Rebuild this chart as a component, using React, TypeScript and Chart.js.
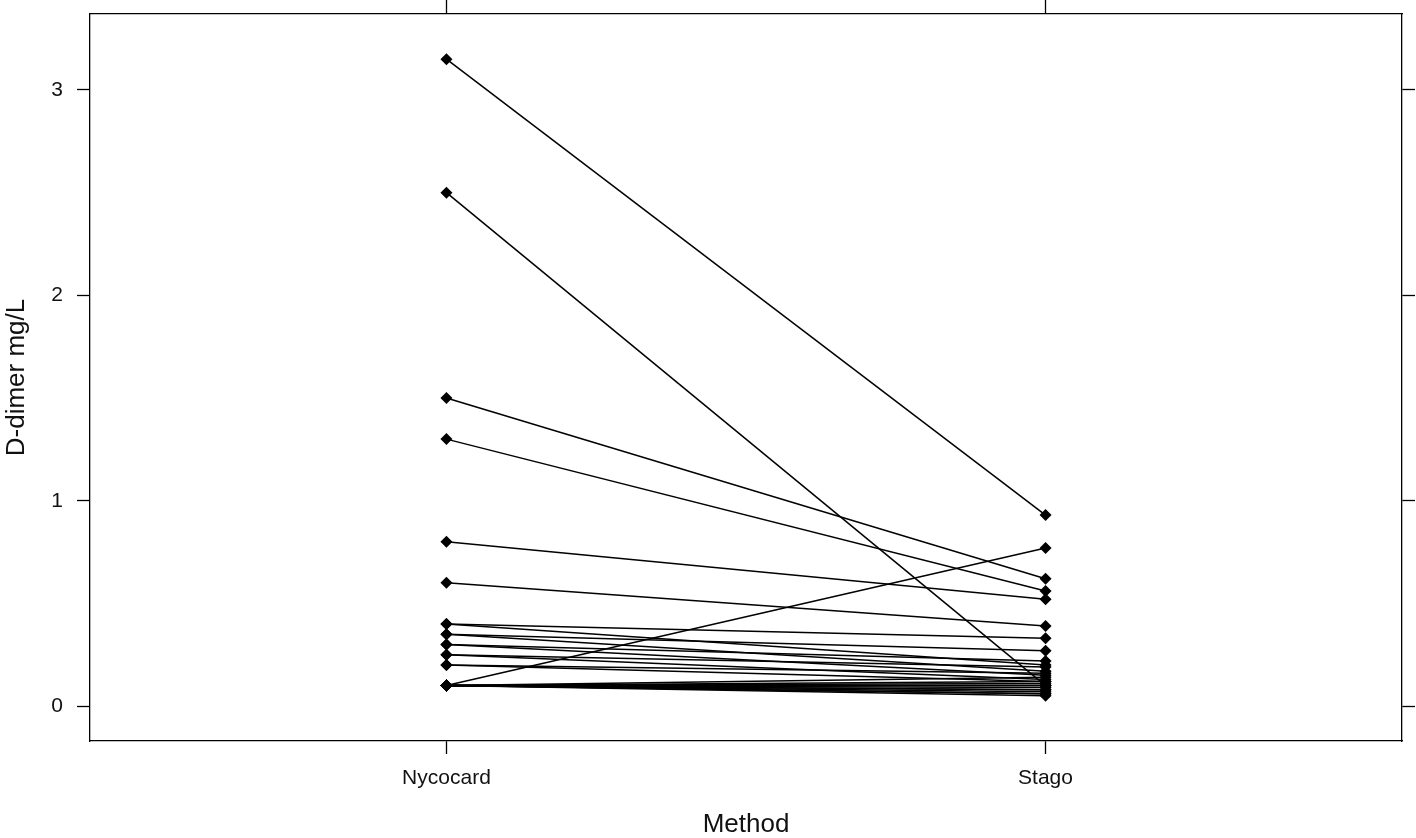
import React, { useEffect, useRef } from "react";
import { Chart, registerables } from "chart.js";

Chart.register(...registerables);

const methods = ["Nycocard", "Stago"];
const yTickValues = [0, 1, 2, 3];
const nycocard = [
  3.15, 2.5, 1.5, 1.3, 0.8, 0.6, 0.1, 0.4, 0.4, 0.35, 0.35, 0.3, 0.3, 0.25, 0.25, 0.2, 0.2,
  0.1, 0.1, 0.1, 0.1, 0.1, 0.1, 0.1, 0.1, 0.1, 0.1, 0.1, 0.1,
];
const stago = [
  0.93, 0.1, 0.62, 0.56, 0.52, 0.39, 0.77, 0.33, 0.2, 0.27, 0.17, 0.22, 0.15, 0.13, 0.19, 0.12, 0.16,
  0.05, 0.06, 0.07, 0.08, 0.09, 0.1, 0.11, 0.12, 0.14, 0.06, 0.08, 0.1,
];

const FONT = "'Liberation Sans', Arial, sans-serif";

export default function App() {
  const ref = useRef<HTMLCanvasElement | null>(null);

  useEffect(() => {
    if (!ref.current) return;
    const datasets = nycocard.map((n, i) => ({
      label: "Subject " + (i + 1),
      data: [
        { x: 1, y: n },
        { x: 2, y: stago[i] },
      ],
      borderColor: "#000",
      backgroundColor: "#000",
      borderWidth: 1.5,
      pointStyle: "rectRot" as const,
      pointRadius: 6,
      pointBorderWidth: 0,
      pointBackgroundColor: "#000",
      showLine: true,
      fill: false,
    }));

    const tickGrid = (len: number) => ({
      display: true,
      drawOnChartArea: false,
      drawTicks: true,
      tickLength: len,
      tickWidth: 1.3,
      tickColor: "#000",
      color: "#000",
    });
    const border = { display: true, color: "#000", width: 1.3 };
    const zeroPad = (s: any) => {
      s.paddingTop = 0;
      s.paddingBottom = 0;
      s.paddingLeft = 0;
      s.paddingRight = 0;
    };

    const chart = new Chart(ref.current, {
      type: "scatter",
      data: { datasets },
      options: {
        animation: false,
        responsive: false,
        maintainAspectRatio: false,
        layout: { padding: 0 },
        plugins: { legend: { display: false }, tooltip: { enabled: false } },
        scales: {
          x: {
            type: "linear",
            position: "bottom",
            min: 0.405,
            max: 2.595,
            grid: tickGrid(13),
            border,
            afterBuildTicks: (s: any) => {
              s.ticks = methods.map((_, i) => ({ value: i + 1 }));
            },
            afterFit: (s: any) => {
              s.height = 97;
              zeroPad(s);
            },
            ticks: {
              padding: 12,
              color: "#111",
              font: { family: FONT, size: 21 },
              maxRotation: 0,
              callback: (v: any) => methods[Math.round(Number(v)) - 1] ?? "",
            },
            title: {
              display: true,
              text: "Method",
              color: "#111",
              font: { family: FONT, size: 26, lineHeight: 1 },
              padding: 0,
            },
          },
          x2: {
            type: "linear",
            position: "top",
            min: 0.405,
            max: 2.595,
            grid: tickGrid(14),
            border,
            afterBuildTicks: (s: any) => {
              s.ticks = methods.map((_, i) => ({ value: i + 1 }));
            },
            afterFit: (s: any) => {
              s.height = 14;
              zeroPad(s);
            },
            ticks: { display: false },
          },
          y: {
            type: "linear",
            position: "left",
            min: -0.17,
            max: 3.37,
            grid: tickGrid(13),
            border,
            afterBuildTicks: (s: any) => {
              s.ticks = yTickValues.map((v) => ({ value: v }));
            },
            afterFit: (s: any) => {
              s.width = 90;
              zeroPad(s);
            },
            ticks: {
              padding: 14,
              color: "#111",
              font: { family: FONT, size: 21 },
              callback: (v: any) => String(v),
            },
            title: {
              display: true,
              text: "D-dimer mg/L",
              color: "#111",
              font: { family: FONT, size: 26, lineHeight: 1 },
              padding: { top: 4, bottom: 0 },
            },
          },
          y2: {
            type: "linear",
            position: "right",
            min: -0.17,
            max: 3.37,
            grid: tickGrid(13),
            border,
            afterBuildTicks: (s: any) => {
              s.ticks = yTickValues.map((v) => ({ value: v }));
            },
            afterFit: (s: any) => {
              s.width = 14;
              zeroPad(s);
            },
            ticks: { display: false },
          },
        },
      } as any,
    });
    return () => chart.destroy();
  }, []);

  return (
    <div style={{ position: "fixed", left: 0, top: 0, width: 1416, height: 838, background: "#fff" }}>
      <canvas ref={ref} width={1416} height={838} style={{ display: "block", width: 1416, height: 838 }} />
    </div>
  );
}
